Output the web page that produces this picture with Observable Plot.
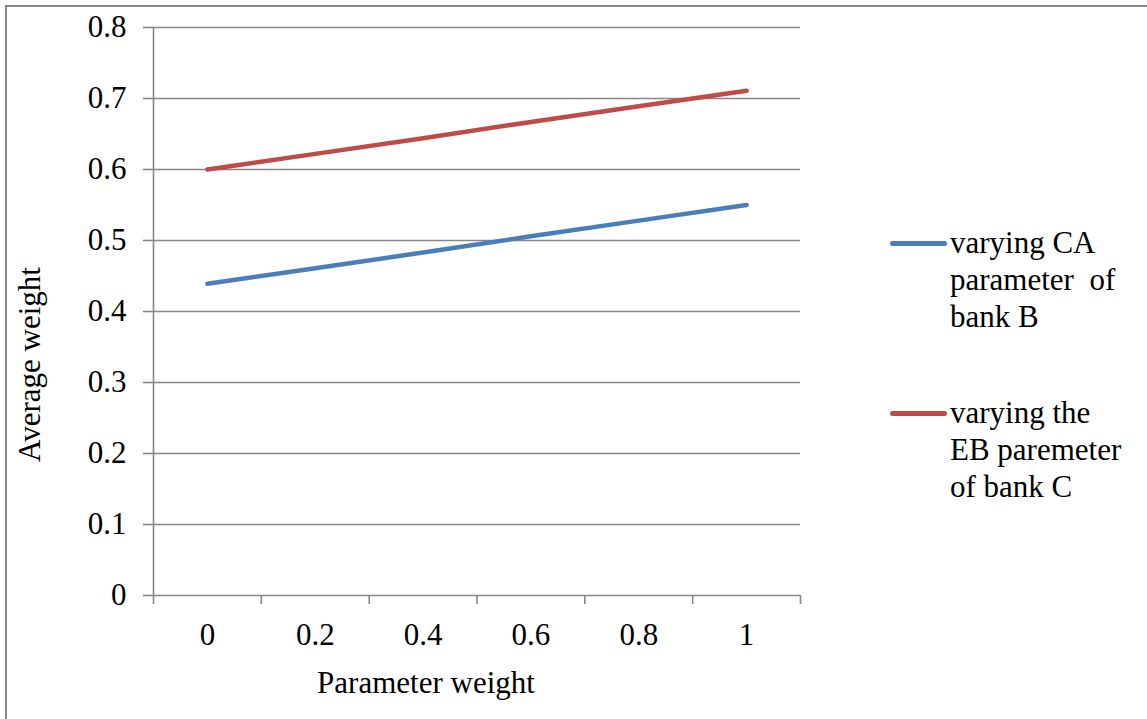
<!DOCTYPE html>
<html>
<head>
<meta charset="utf-8">
<script src="https://cdn.jsdelivr.net/npm/d3@7"></script>
<script src="https://cdn.jsdelivr.net/npm/@observablehq/plot@0.6"></script>
<style>
  html, body { margin: 0; padding: 0; background: #fff; }
  #wrap { position: relative; width: 1147px; height: 719px; overflow: hidden; font-family: "Liberation Serif", "Times New Roman", serif; }
  #frame { position: absolute; left: 5px; top: 5px; width: 1200px; height: 800px; border-top: 2px solid #878787; border-left: 2px solid #878787; box-sizing: border-box; pointer-events: none; }
  .entry { position: absolute; left: 890px; }
  .swatch { position: absolute; left: 0; width: 57px; height: 5px; border-radius: 3px; }
  .label { position: absolute; left: 60px; width: 180px; font-size: 31px; line-height: 37px; white-space: pre-wrap; color: #000; }
</style>
</head>
<body>
<div id="wrap">
  <div id="chart"></div>
  <div id="legend"></div>
  <div id="frame"></div>
</div>
<script>
// ---- data ----
const categories = [0, 0.2, 0.4, 0.6, 0.8, 1];
const caValues = [0.439, 0.461, 0.483, 0.506, 0.528, 0.550];
const ebValues = [0.600, 0.622, 0.644, 0.667, 0.689, 0.711];
const seriesNames = ["varying CA parameter  of bank B", "varying the EB paremeter of bank C"];
const seriesColors = ["#4A7EBB", "#BE4B48"];
const yTicks = [0, 0.1, 0.2, 0.3, 0.4, 0.5, 0.6, 0.7, 0.8];
const xTitle = "Parameter weight";
const yTitle = "Average weight";

const rows = [];
categories.forEach((c, i) => rows.push({x: c, y: caValues[i], s: seriesNames[0]}));
categories.forEach((c, i) => rows.push({x: c, y: ebValues[i], s: seriesNames[1]}));

const step = categories[1] - categories[0];
const boundaries = [categories[0] - step / 2, ...categories.map(c => c + step / 2)];

const grid = "#878787";
const fmt = d => String(+d.toFixed(2));

const chart = Plot.plot({
  width: 1147,
  height: 719,
  marginLeft: 153,
  marginRight: 347,
  marginTop: 27,
  marginBottom: 124,
  style: {fontFamily: "Liberation Serif, Times New Roman, serif", fontSize: "31px", color: "#000", background: "transparent"},
  x: {type: "linear", domain: [boundaries[0], boundaries[boundaries.length - 1]]},
  y: {domain: [0, 0.8]},
  color: {domain: seriesNames, range: seriesColors},
  marks: [
    Plot.gridY(yTicks, {stroke: grid, strokeOpacity: 1, strokeWidth: 1.6}),
    Plot.axisY(yTicks, {tickSize: 10, tickPadding: 17, stroke: grid, strokeWidth: 1.6, fill: "#000", fontSize: 31, tickFormat: fmt, label: null}),
    Plot.ruleX([boundaries[0]], {stroke: grid, strokeWidth: 1.6}),
    Plot.axisX(boundaries, {tickSize: 9, stroke: grid, strokeWidth: 1.6, tickFormat: () => "", label: null}),
    Plot.axisX(categories, {tickSize: 0, tickPadding: 27, fill: "#000", fontSize: 31, tickFormat: fmt, label: null}),
    Plot.line(rows, {x: "x", y: "y", z: "s", stroke: "s", strokeWidth: 4.5, strokeLinecap: "round", strokeLinejoin: "round"}),
    Plot.text([xTitle], {frameAnchor: "bottom", textAnchor: "middle", lineAnchor: "middle", dx: -51, dy: 88, fontSize: 31, fill: "#000"}),
    Plot.text([yTitle], {frameAnchor: "left", textAnchor: "middle", lineAnchor: "middle", rotate: -90, dx: -123, dy: 53, fontSize: 31, fill: "#000"})
  ]
});
document.getElementById("chart").appendChild(chart);

// ---- legend (HTML, right side) ----
const legend = document.getElementById("legend");
const tops = [224, 394];
seriesNames.forEach((name, i) => {
  const e = document.createElement("div");
  e.className = "entry";
  e.style.top = tops[i] + "px";
  const sw = document.createElement("div");
  sw.className = "swatch";
  sw.style.background = seriesColors[i];
  sw.style.top = "17px";
  const lb = document.createElement("div");
  lb.className = "label";
  lb.textContent = name;
  lb.style.top = "0px";
  e.appendChild(sw);
  e.appendChild(lb);
  legend.appendChild(e);
});
</script>
</body>
</html>
